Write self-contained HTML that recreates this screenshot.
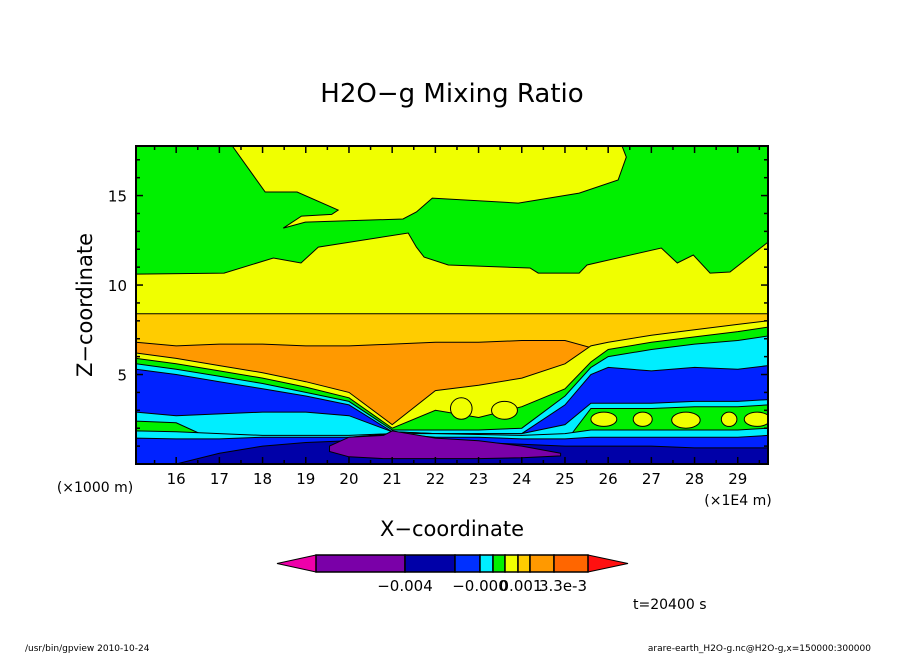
<!DOCTYPE html>
<html><head><meta charset="utf-8"><style>
html,body{margin:0;padding:0;background:#fff;}
svg{display:block;font-family:"DejaVu Sans","Liberation Sans",sans-serif;}
</style></head><body>
<svg id="chart" width="904" height="654" viewBox="0 0 904 654" xmlns="http://www.w3.org/2000/svg">
<rect width="904" height="654" fill="#fff"/>
<text x="452" y="102" text-anchor="middle" font-size="26">H2O−g Mixing Ratio</text>
<defs><clipPath id="pc"><rect x="136" y="146" width="632" height="318"/></clipPath></defs>
<g id="plot" clip-path="url(#pc)"></g>
<g id="axes"></g>
<text x="95" y="492" font-size="14" text-anchor="middle">(×1000 m)</text>
<text x="738" y="505" font-size="14" text-anchor="middle">(×1E4 m)</text>
<text x="452" y="536" font-size="21" text-anchor="middle">X−coordinate</text>
<text transform="translate(92,305) rotate(-90)" font-size="21" text-anchor="middle">Z−coordinate</text>
<g id="cbar"></g>
<text x="633" y="609" font-size="14">t=20400 s</text>
<text x="25" y="651" font-size="9">/usr/bin/gpview  2010-10-24</text>
<text x="871" y="651" font-size="9" text-anchor="end">arare-earth_H2O-g.nc@H2O-g,x=150000:300000</text>
</svg>
<script>
// axis range (x in 1E4 m, z in 1000 m)
const xMin = 15.07, xMax = 29.70, zMin = 0, zMax = 17.77;
const xTicks = [16,17,18,19,20,21,22,23,24,25,26,27,28,29];
const zTicks = [5,10,15];
// band sample positions
const xs = [15.07,16,17,18,19,20,21,22,23,24,25,25.6,26,27,28,29,29.7];
const goldTop   = [8.4,8.4,8.4,8.4,8.4,8.4,8.4,8.4,8.4,8.4,8.4,8.4,8.4,8.4,8.4,8.4,8.4];
const orangeTop = [6.8,6.6,6.7,6.7,6.6,6.6,6.7,6.8,6.8,6.9,6.9,6.5,5,5,5,5,5];
const yellowTop = [6.2,5.9,5.5,5.1,4.6,4.0,2.2,4.1,4.4,4.8,5.6,6.6,6.8,7.2,7.5,7.8,8.0];
const greenTop  = [5.9,5.6,5.2,4.8,4.3,3.7,2.0,3.0,2.6,3.2,4.2,5.7,6.4,6.8,7.1,7.4,7.65];
const cyanTop   = [5.6,5.3,4.9,4.5,4.0,3.5,1.9,1.9,1.9,2.0,3.8,5.4,6.0,6.4,6.7,6.9,7.15];
const blueTop   = [5.3,5.0,4.6,4.2,3.8,3.3,1.8,1.7,1.7,1.7,3.3,5.0,5.4,5.2,5.4,5.3,5.5];
const cyan2Top  = [2.9,2.7,2.8,2.9,2.9,2.7,1.8,1.7,1.7,1.7,2.2,3.4,3.4,3.4,3.5,3.5,3.6];
const green2Top = [2.4,2.3,1.2,1.2,1.2,1.2,1.2,1.2,1.2,1.2,1.2,3.1,3.1,3.1,3.2,3.2,3.3];
const cyan3Top  = [1.85,1.8,1.7,1.6,1.6,1.6,1.7,1.7,1.65,1.6,1.7,1.9,1.9,1.9,1.9,1.9,2.0];
const blue3Top  = [1.45,1.4,1.4,1.5,1.5,1.5,1.7,1.5,1.5,1.4,1.4,1.5,1.5,1.5,1.5,1.5,1.6];
const dblueTop  = [0,0,0.6,1.0,1.2,1.3,1.7,1.3,1.2,1.1,1.0,1.0,1.0,1.0,0.9,0.9,0.9];
// upper green region lower boundary
const gbX = [15.07,17.11,18.25,18.89,19.29,21.37,21.56,21.74,22.30,24.19,24.38,25.33,25.51,27.23,27.60,27.97,28.36,28.82,29.38,29.70];
const gbZ = [10.61,10.67,11.51,11.23,12.12,12.91,12.12,11.56,11.12,10.95,10.67,10.67,11.12,12.07,11.23,11.68,10.67,10.73,11.79,12.40];
// top yellow patch outline
const ypX = [17.30,18.06,18.80,19.75,19.6,18.9,18.48,18.99,21.25,21.56,21.93,23.92,25.33,26.23,26.42,26.32];
const ypZ = [17.77,15.20,15.20,14.19,13.95,13.85,13.18,13.52,13.69,14.08,14.86,14.58,15.14,15.87,17.15,17.77];
// purple patch
const ppX = [19.55,20.0,20.8,21.0,22.0,23.0,24.0,24.9];
const ppTop = [1.0,1.5,1.6,1.85,1.45,1.3,1.0,0.6];
const ppBot = [0.7,0.4,0.3,0.3,0.3,0.3,0.35,0.45];
// yellow patches in lower green layer (center x, center z, half-width x, half-height z)
const yPatchX = [25.9,26.8,27.8,28.8,29.45,22.6,23.6];
const yPatchZ = [2.5,2.5,2.45,2.5,2.5,3.1,3.0];
const yPatchRX = [0.3,0.22,0.33,0.18,0.3,0.25,0.3];
const yPatchRZ = [0.4,0.4,0.45,0.4,0.4,0.6,0.5];
// colorbar
const cbColors = ["#7a00a8","#0000a8","#0030ff","#00eeff","#00f000","#f0ff00","#ffcc00","#ff9900","#ff6600"];
const cbEdges = [316,405,455,480,493,505,518,530,554,588];
const cbLabels = ["−0.004","−0.000","0.001","3.3e-3"];
const cbLabelPos = [405,480,521,563];

const X = v => 136 + (v - xMin) / (xMax - xMin) * 632;
const Z = v => 464 - (v - zMin) / (zMax - zMin) * 318;
const NS = "http://www.w3.org/2000/svg";
const plot = document.getElementById('plot');
function poly(pts, fill, name, parent){
  const p = document.createElementNS(NS,'polygon');
  p.setAttribute('points', pts.map(q=>q[0].toFixed(1)+','+q[1].toFixed(1)).join(' '));
  p.setAttribute('fill', fill);
  p.setAttribute('stroke', '#000');
  p.setAttribute('stroke-width', '1');
  
  
  (parent||plot).appendChild(p);
}
poly([[X(xMin),Z(zMax)],[X(xMax),Z(zMax)],[X(xMax),Z(0)],[X(xMin),Z(0)]], "#f0ff00", "region-yellow");
poly([[X(xMin),Z(zMax)-2],[X(xMax),Z(zMax)-2]].concat(gbX.map((x,i)=>[X(x),Z(gbZ[i])]).reverse()), "#00f000", "region-upper-green");
poly(ypX.map((x,i)=>[X(x),Z(ypZ[i])]).concat([[X(ypX[ypX.length-1]),Z(zMax)-2],[X(ypX[0]),Z(zMax)-2]]), "#f0ff00", "region-upper-yellow");
const bands = [["#ffcc00",goldTop,"band-gold"],["#ff9900",orangeTop,"band-orange"],["#f0ff00",yellowTop,"band-yellow"],
 ["#00f000",greenTop,"band-green"],["#00eeff",cyanTop,"band-cyan"],["#0022ff",blueTop,"band-blue"],["#00eeff",cyan2Top,"band-cyan-lower"],
 ["#00f000",green2Top,"band-green-lower"],["#00eeff",cyan3Top,"band-cyan-bottom"],["#0022ff",blue3Top,"band-blue-bottom"],["#0000a8",dblueTop,"band-dark-blue"]];
bands.forEach(b=>{
  const pts = xs.map((x,i)=>[X(x),Z(b[1][i])]);
  pts.push([X(xMax),Z(0)+2],[X(xMin),Z(0)+2]);
  poly(pts,b[0],b[2]);
});
poly(ppX.map((x,i)=>[X(x),Z(ppTop[i])]).concat(ppX.map((x,i)=>[X(x),Z(ppBot[i])]).reverse()), "#7a00a8", "region-purple");
yPatchX.forEach((x,i)=>{
  const e=document.createElementNS(NS,'ellipse');
  e.setAttribute('cx',X(x));e.setAttribute('cy',Z(yPatchZ[i]));
  e.setAttribute('rx',X(x+yPatchRX[i])-X(x));e.setAttribute('ry',Z(0)-Z(yPatchRZ[i]));
  e.setAttribute('fill','#f0ff00');e.setAttribute('stroke','#000');e.setAttribute('stroke-width','1');
  
  
  plot.appendChild(e);
});

const axes = document.getElementById('axes');
function line(x1,y1,x2,y2,w,name){
  const l=document.createElementNS(NS,'line');
  l.setAttribute('x1',x1);l.setAttribute('y1',y1);l.setAttribute('x2',x2);l.setAttribute('y2',y2);
  l.setAttribute('stroke','#000');l.setAttribute('stroke-width',w);
  
  
  axes.appendChild(l);
}
const fr=document.createElementNS(NS,'rect');
fr.setAttribute('x',136);fr.setAttribute('y',146);fr.setAttribute('width',632);fr.setAttribute('height',318);
fr.setAttribute('fill','none');fr.setAttribute('stroke','#000');fr.setAttribute('stroke-width','2');


axes.appendChild(fr);
for(let v=15.5; v<xMax; v+=0.5){
  const major = Math.abs(v-Math.round(v))<1e-6;
  const L = major?7:4;
  line(X(v),464,X(v),464-L,1.5,'x-tick');
  line(X(v),146,X(v),146+L,1.5,'x-tick-top');
}
for(let v=1; v<zMax; v+=1){
  const major = v%5===0;
  const L = major?7:4;
  line(136,Z(v),136+L,Z(v),1.5,'y-tick');
  line(768,Z(v),768-L,Z(v),1.5,'y-tick-right');
}
xTicks.forEach(v=>{
  const t=document.createElementNS(NS,'text');
  t.setAttribute('x',X(v));t.setAttribute('y',484);t.setAttribute('font-size','15');t.setAttribute('text-anchor','middle');
  t.textContent=v;
  
  
  axes.appendChild(t);
});
zTicks.forEach(v=>{
  const t=document.createElementNS(NS,'text');
  t.setAttribute('x',127);t.setAttribute('y',Z(v)+6);t.setAttribute('font-size','15');t.setAttribute('text-anchor','end');
  t.textContent=v;
  
  
  axes.appendChild(t);
});
const cb=document.getElementById('cbar');
poly([[277,563.5],[316,555],[316,572]],"#ee00aa","colorbar-low-arrow",cb);
poly([[628,563.5],[588,555],[588,572]],"#ff1010","colorbar-high-arrow",cb);
cbColors.forEach((c,i)=>{
  const r=document.createElementNS(NS,'rect');
  r.setAttribute('x',cbEdges[i]);r.setAttribute('y',555);r.setAttribute('width',cbEdges[i+1]-cbEdges[i]);r.setAttribute('height',17);
  r.setAttribute('fill',c);r.setAttribute('stroke','#000');r.setAttribute('stroke-width','1.5');
  
  
  cb.appendChild(r);
});
cbLabels.forEach((s,i)=>{
  const t=document.createElementNS(NS,'text');
  t.setAttribute('x',cbLabelPos[i]);t.setAttribute('y',591);t.setAttribute('font-size','15');t.setAttribute('text-anchor','middle');
  t.textContent=s;
  
  
  cb.appendChild(t);
});
</script>
</body></html>
